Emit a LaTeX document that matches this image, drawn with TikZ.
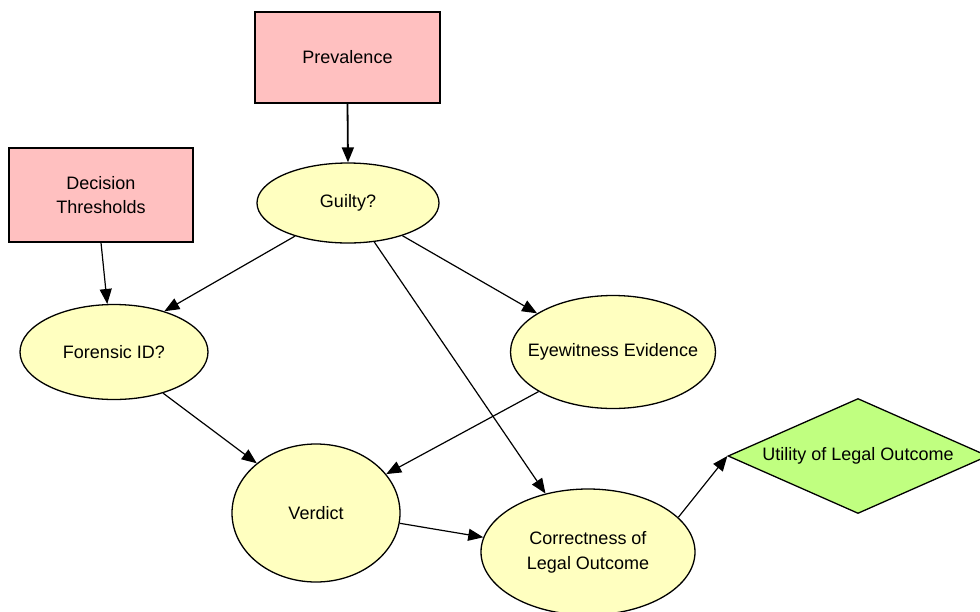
\documentclass[tikz,border=0pt]{standalone}
\usepackage{fontspec}
\setmainfont{Liberation Sans}
\usetikzlibrary{shapes.geometric,arrows.meta}
\definecolor{pinkfill}{RGB}{255,192,192}
\definecolor{yellowfill}{RGB}{255,255,192}
\definecolor{greenfill}{RGB}{192,255,128}
\tikzset{
  every node/.style={font=\fontsize{18}{24.5}\selectfont, inner sep=0pt, line width=1.3pt},
  rectbox/.style={draw, fill=pinkfill, rectangle, align=center},
  ellnode/.style={draw, fill=yellowfill, ellipse},
  utilnode/.style={draw, fill=greenfill, diamond},
  conn/.style={line width=1.2pt, -{Triangle[length=15pt,width=12pt]}},
}
\newcommand{\zb}[1]{\makebox[0pt][c]{#1}}
\begin{document}
\begin{tikzpicture}[x=1pt,y=-1pt]
\useasboundingbox (0,0) rectangle (980,611);
\node[rectbox, minimum width=185, minimum height=91] (prev) at (347.5,57.5) {Prevalence};
\node[rectbox, minimum width=184, minimum height=94] (dec) at (101,195) {Decision\\Thresholds};
\node[ellnode, minimum width=182, minimum height=80] (guilty) at (348,203) {\zb{Guilty?}};
\node[ellnode, minimum width=188, minimum height=95] (forensic) at (114,352) {\zb{Forensic ID?}};
\node[ellnode, minimum width=205, minimum height=113] (eye) at (613,352) {\zb{Eyewitness Evidence}};
\node[ellnode, minimum width=168, minimum height=138] (verdict) at (316,513) {\zb{Verdict}};
\node[ellnode, minimum width=214, minimum height=126] (correct) at (588,552) {\zb{\begin{tabular}{@{}c@{}}Correctness of\\Legal Outcome\end{tabular}}};
\node[utilnode, minimum width=260, minimum height=115] (util) at (858,456) {\zb{Utility of Legal Outcome}};

\draw[conn, line width=1.8pt] (prev.south) -- (guilty.north);
\draw[conn] (dec.south) -- (forensic.98);
\draw[conn] (guilty.-148) -- (forensic.39);
\draw[conn] (guilty.-31) -- (eye.153);
\draw[conn] (guilty.-56) -- (correct.126);
\draw[conn] (forensic.-40) -- (verdict.140);
\draw[conn] (eye.-152) -- (verdict.29);
\draw[conn] (verdict.-7.5) -- (correct.172);
\draw[conn] (correct.21) -- (util.west);
\end{tikzpicture}
\end{document}
